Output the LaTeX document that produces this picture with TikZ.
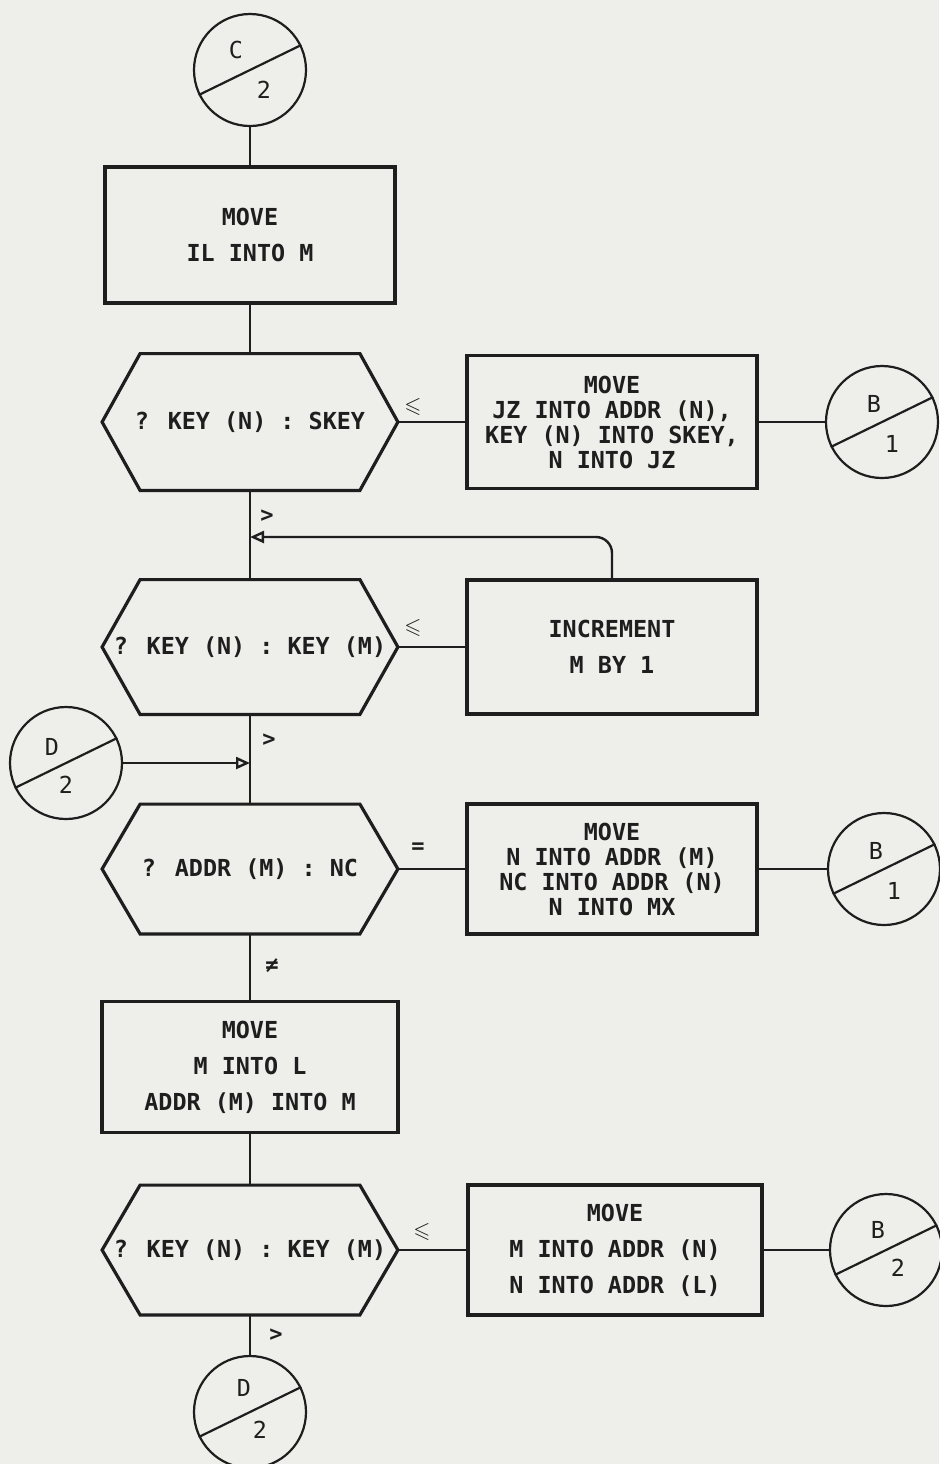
\documentclass[tikz,border=0pt]{standalone}
\usepackage{amsmath,amssymb}
\usepackage{fontspec}
\usepackage{tikz}
\usetikzlibrary{arrows.meta}
\newfontfamily\chartfont{DejaVu Sans Mono}
\definecolor{paper}{RGB}{238,238,235}
\definecolor{ink}{RGB}{30,30,30}

\tikzset{
  procbox/.style={draw=ink, line width=1.8pt, minimum width=145pt, minimum height=66pt,
    inner sep=0pt, align=center, text=ink, font=\chartfont\bfseries\fontsize{11.7}{12.5}\selectfont},
  widebox/.style={procbox, font=\chartfont\bfseries\fontsize{11.7}{18}\selectfont},
  testbox/.style={minimum width=147.5pt, minimum height=66pt, inner sep=0pt, text=ink,
    font=\chartfont\bfseries\fontsize{11.7}{12.5}\selectfont},
  conn/.style={draw=ink, circle, line width=1.1pt, minimum size=56pt, inner sep=0pt},
  lettr/.style={font=\chartfont\fontsize{11.7}{12}\selectfont, text=ink},
  relmark/.style={text=ink, font=\chartfont\bfseries\fontsize{11}{12}\selectfont},
  flow/.style={draw=ink, line width=1.2pt},
  merge/.style={flow, -{Triangle[open,length=7pt,width=6pt]}}
}

\begin{document}
\begin{tikzpicture}[x=0.5pt,y=-0.5pt]
        \fill[paper] (0,0) rectangle (939,1464);
        \useasboundingbox (0,0) rectangle (939,1464);
        % left column
        \node[conn, label={[lettr,xshift=-7pt,yshift=10pt]center:C}, label={[lettr,xshift=7pt,yshift=-10pt]center:2}] (c2) at (250,70) {};
        \node[widebox, minimum height=68pt] (box1) at (250,235) {MOVE\\IL INTO M};
        \node[testbox, minimum height=68pt] (hex1) at (250,422) {? KEY (N) : SKEY};
        \coordinate (m1) at (250,537);
        \node[testbox, minimum height=67pt] (hex2) at (250,647) {? KEY (N) : KEY (M)};
        \node[conn, label={[lettr,xshift=-7pt,yshift=8pt]center:D}, label={[lettr,xshift=0pt,yshift=-11pt]center:2}] (d2a) at (66,763) {};
        \coordinate (m2) at (250,763);
        \node[testbox, minimum height=64.5pt] (hex3) at (250,869) {? ADDR (M) : NC};
        \node[widebox, minimum height=65.5pt, minimum width=148pt] (box4) at (250,1067) {MOVE\\M INTO L\\ADDR (M) INTO M};
        \node[testbox, minimum height=64.5pt] (hex4) at (250,1250) {? KEY (N) : KEY (M)};
        \node[conn, label={[lettr,xshift=-3pt,yshift=12pt]center:D}, label={[lettr,xshift=5pt,yshift=-9pt]center:2}] (d2b) at (250,1412) {};
        % right column
        \node[procbox, minimum height=66.5pt] (box2) at (612,422) {MOVE\\JZ INTO ADDR (N),\\KEY (N) INTO SKEY,\\N INTO JZ};
        \node[conn, label={[lettr,xshift=-4pt,yshift=9pt]center:B}, label={[lettr,xshift=5pt,yshift=-11pt]center:1}] (b1a) at (882,422) {};
        \node[widebox, minimum height=67pt] (incr) at (612,647) {INCREMENT\\M BY 1};
        \node[procbox, minimum height=65pt] (box3) at (612,869) {MOVE\\N INTO ADDR (M)\\NC INTO ADDR (N)\\N INTO MX};
        \node[conn, label={[lettr,xshift=-4pt,yshift=9pt]center:B}, label={[lettr,xshift=5pt,yshift=-11pt]center:1}] (b1b) at (884,869) {};
        \node[widebox, minimum height=65pt, minimum width=147pt] (box5) at (615,1250) {MOVE\\M INTO ADDR (N)\\N INTO ADDR (L)};
        \node[conn, label={[lettr,xshift=-4pt,yshift=10pt]center:B}, label={[lettr,xshift=6pt,yshift=-9pt]center:2}] (b2) at (886,1250) {};
        % hexagon outlines and connector diagonals
        \foreach \h in {hex1,hex2,hex3,hex4}
          \draw[draw=ink, line width=1.6pt] (\h.west) -- ([xshift=19pt]\h.north west) -- ([xshift=-19pt]\h.north east)
            -- (\h.east) -- ([xshift=-19pt]\h.south east) -- ([xshift=19pt]\h.south west) -- cycle;
        \foreach \c in {c2,d2a,d2b,b1a,b1b,b2}
          \draw[draw=ink, line width=1.1pt] (\c.206) -- (\c.26);
        % flow lines
        \draw[flow] (c2) -- (box1);
        \draw[flow] (box1) -- (hex1);
        \draw[flow] (hex1) -- (hex2);
        \draw[flow] (hex2) -- (hex3);
        \draw[flow] (hex3) -- (box4);
        \draw[flow] (box4) -- (hex4);
        \draw[flow] (hex4) -- (d2b);
        \draw[flow] (hex1) -- (box2);
        \draw[flow] (box2) -- (b1a);
        \draw[flow] (hex2) -- (incr);
        \draw[flow] (hex3) -- (box3);
        \draw[flow] (box3) -- (b1b);
        \draw[flow] (hex4) -- (box5);
        \draw[flow] (box5) -- (b2);
        \draw[merge, rounded corners=8pt] (incr.north) |- (m1);
        \draw[merge] (d2a) -- (m2);
        % branch marks
        \node[relmark] (le1) at ([xshift=7.5pt,yshift=7.5pt]hex1.east) {$\leqslant$};
        \node[relmark] (gt1) at ([xshift=8.5pt,yshift=-13pt]hex1.south) {>};
        \node[relmark] (le2) at ([xshift=7.5pt,yshift=9.5pt]hex2.east) {$\leqslant$};
        \node[relmark] (gt2) at ([xshift=9.5pt,yshift=-13pt]hex2.south) {>};
        \node[relmark] (eq3) at ([xshift=10pt,yshift=10.5pt]hex3.east) {=};
        \node[relmark] (ne3) at ([xshift=11pt,yshift=-16pt]hex3.south) {≠};
        \node[relmark] (le4) at ([xshift=12pt,yshift=9pt]hex4.east) {$\leqslant$};
        \node[relmark] (gt4) at ([xshift=13pt,yshift=-10pt]hex4.south) {>};
      \end{tikzpicture}
\end{document}
